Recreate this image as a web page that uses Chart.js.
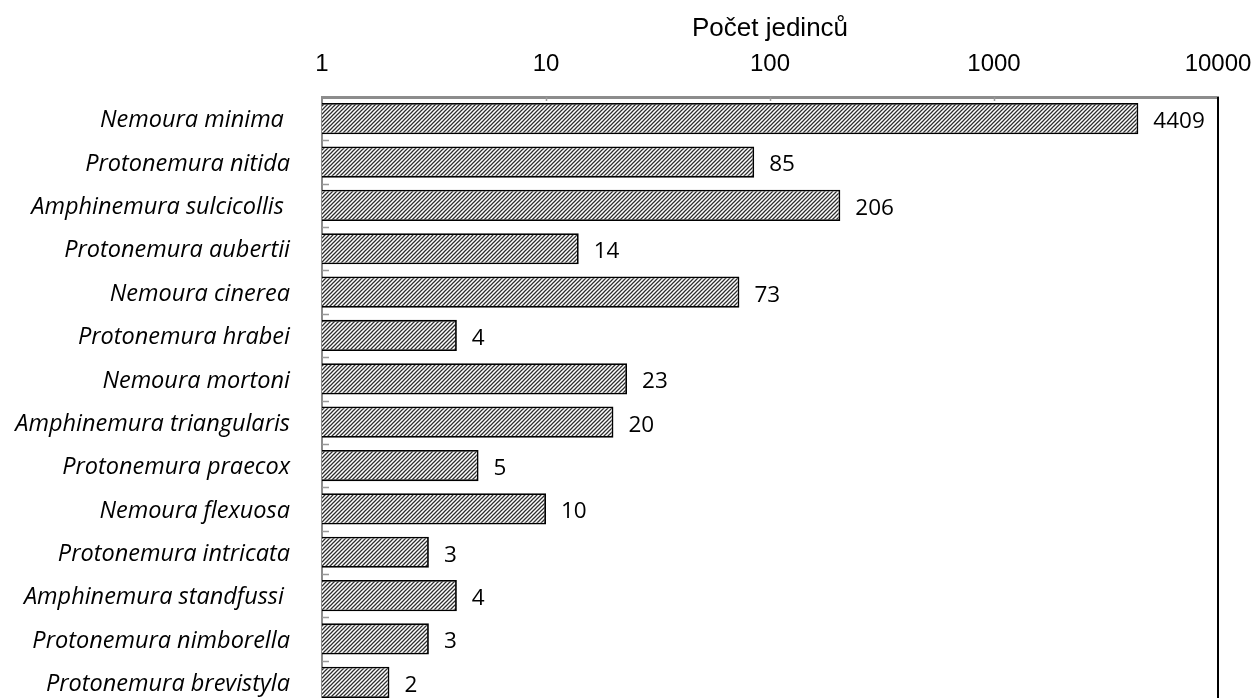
<!DOCTYPE html>
<html>
<head>
<meta charset="utf-8">
<script src="https://cdn.jsdelivr.net/npm/chart.js@4/dist/chart.umd.min.js"></script>
<style>
  body { margin: 0; background: #fff; overflow: hidden; }
</style>
</head>
<body>
<canvas id="chart" width="1253" height="704"></canvas>
<script>
var species = [
    'Nemoura minima ',
    'Protonemura nitida',
    'Amphinemura sulcicollis ',
    'Protonemura aubertii',
    'Nemoura cinerea',
    'Protonemura hrabei',
    'Nemoura mortoni',
    'Amphinemura triangularis',
    'Protonemura praecox',
    'Nemoura flexuosa',
    'Protonemura intricata',
    'Amphinemura standfussi ',
    'Protonemura nimborella',
    'Protonemura brevistyla'
];
var counts = [4409, 85, 206, 14, 73, 4, 23, 20, 5, 10, 3, 4, 3, 2];
var xTicks = [1, 10, 100, 1000, 10000];
var axisTitle = 'Počet jedinců';

function hatch(){
    var c = document.createElement('canvas');
    c.width = 4;
    c.height = 4;
    var g = c.getContext('2d');
    g.fillStyle = '#fff';
    g.fillRect(0, 0, 4, 4);
    g.strokeStyle = '#2e2e2e';
    g.lineWidth = 1.25;
    g.beginPath();
    g.moveTo(-1, 5); g.lineTo(5, -1);
    g.moveTo(-1, 1); g.lineTo(1, -1);
    g.moveTo(3, 5); g.lineTo(5, 3);
    g.stroke();
    return g.createPattern(c, 'repeat');
}

// values next to bars, frame on the right, small ticks on the axes
var extras = {
    id: 'extras',
    afterDatasetsDraw: function(chart){
        var ctx = chart.ctx;
        var area = chart.chartArea;
        var meta = chart.getDatasetMeta(0);
        ctx.save();
        ctx.font = '22.5px "Open Sans"';
        ctx.fillStyle = '#000';
        ctx.textAlign = 'left';
        ctx.textBaseline = 'middle';
        meta.data.forEach(function(bar, i){
            ctx.fillText(String(counts[i]), bar.x + 15, bar.y + 3);
        });

        ctx.strokeStyle = '#000';
        ctx.lineWidth = 2;
        ctx.beginPath();
        ctx.moveTo(area.right, area.top);
        ctx.lineTo(area.right, area.bottom);
        ctx.stroke();

        var y = chart.scales.y;
        var step = y.getPixelForValue(1) - y.getPixelForValue(0);
        ctx.strokeStyle = '#999';
        ctx.lineWidth = 1.5;
        ctx.beginPath();
        for (var k = 0; k < species.length; k++) {
            var py = Math.round(y.getPixelForValue(k) + step / 2) + 0.5;
            ctx.moveTo(area.left, py);
            ctx.lineTo(area.left + 7, py);
        }
        var x = chart.scales.x;
        for (var t = 1; t < xTicks.length - 1; t++) {
            var px = Math.round(x.getPixelForValue(xTicks[t])) + 0.5;
            ctx.moveTo(px, area.top);
            ctx.lineTo(px, area.top + 4);
        }
        ctx.stroke();
        ctx.restore();
    }
};

var ctx = document.getElementById('chart').getContext('2d');
var chart = new Chart(ctx, {
    type: 'bar',
    data: {
        labels: species,
        datasets: [{
            data: counts,
            backgroundColor: hatch(),
            borderColor: '#000',
            borderWidth: 1.8,
            categoryPercentage: 1,
            barPercentage: 0.72
        }]
    },
    options: {
        indexAxis: 'y',
        responsive: false,
        animation: false,
        devicePixelRatio: 1,
        layout: { padding: { left: 0, right: 35, top: 0, bottom: 0 } },
        plugins: {
            legend: { display: false },
            tooltip: { enabled: false }
        },
        scales: {
            x: {
                type: 'logarithmic',
                position: 'top',
                min: 1,
                max: 10000,
                afterFit: function(scale){
                    scale.height = 97;
                    scale.paddingLeft = 0;
                    scale.paddingRight = 0;
                },
                afterBuildTicks: function(scale){
                    scale.ticks = xTicks.map(function(v){ return { value: v }; });
                },
                ticks: {
                    autoSkip: false,
                    maxRotation: 0,
                    padding: 10,
                    color: '#000',
                    font: { family: '"Liberation Sans", Arial', size: 24 },
                    callback: function(v){ return String(v); }
                },
                grid: { display: false },
                border: { display: true, color: '#8c8c8c', width: 3 },
                title: {
                    display: true,
                    text: axisTitle,
                    color: '#000',
                    font: { family: '"Liberation Sans", Arial', size: 26 },
                    padding: { top: 13, bottom: 0 }
                }
            },
            y: {
                afterFit: function(scale){
                    scale.width = 322;
                    scale.paddingTop = 0;
                    scale.paddingBottom = 0;
                },
                ticks: {
                    padding: 24,
                    labelOffset: 2,
                    color: '#000',
                    font: { family: '"Open Sans"', size: 23.5, style: 'italic' }
                },
                grid: { display: false },
                border: { display: true, color: '#8c8c8c', width: 2 }
            }
        }
    },
    plugins: [extras]
});
</script>
</body>
</html>
